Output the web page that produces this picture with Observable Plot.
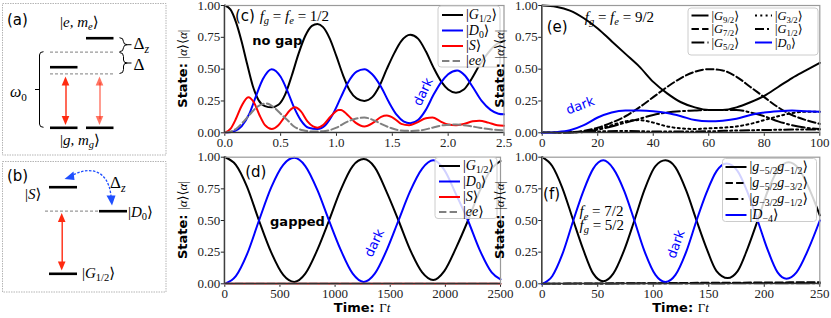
<!DOCTYPE html>
<html><head><meta charset="utf-8">
<script src="https://cdn.jsdelivr.net/npm/d3@7"></script>
<script src="https://cdn.jsdelivr.net/npm/@observablehq/plot@0.6"></script>
<style>
html,body{margin:0;padding:0;background:#fff;}
#root{position:relative;width:831px;height:318px;overflow:hidden;background:#fff;}
#root svg{position:absolute;left:0;top:0;overflow:visible;}
</style></head><body><div id="root"></div>
<script>
// ---------------- DATA ----------------
// panel (c): f_g = f_e = 1/2, no gap, time in units of 1/Γ
const cTicks = [0, 0.5, 1, 1.5, 2, 2.5];
const cG = [[0,1],[0.05,0.97],[0.1,0.87],[0.15,0.72],[0.2,0.54],[0.25,0.37],[0.3,0.26],[0.36,0.21],[0.42,0.2],[0.48,0.22],[0.54,0.3],[0.6,0.45],[0.66,0.62],[0.72,0.76],[0.78,0.84],[0.83,0.855],[0.88,0.83],[0.94,0.74],[1.0,0.6],[1.06,0.45],[1.12,0.33],[1.18,0.27],[1.25,0.25],[1.32,0.28],[1.38,0.36],[1.45,0.5],[1.52,0.63],[1.58,0.72],[1.66,0.77],[1.73,0.74],[1.8,0.64],[1.87,0.51],[1.94,0.4],[2.0,0.34],[2.07,0.315],[2.14,0.34],[2.2,0.41],[2.28,0.53],[2.36,0.63],[2.44,0.7],[2.5,0.72]];
const cD = [[0,0],[0.08,0.01],[0.15,0.05],[0.22,0.15],[0.28,0.29],[0.34,0.42],[0.42,0.5],[0.5,0.44],[0.56,0.33],[0.62,0.2],[0.68,0.1],[0.75,0.04],[0.83,0.03],[0.9,0.06],[0.97,0.15],[1.04,0.28],[1.1,0.39],[1.18,0.48],[1.25,0.5],[1.32,0.46],[1.4,0.36],[1.47,0.24],[1.54,0.14],[1.6,0.09],[1.66,0.075],[1.73,0.1],[1.8,0.18],[1.87,0.3],[1.94,0.4],[2.0,0.46],[2.08,0.49],[2.15,0.45],[2.22,0.36],[2.3,0.25],[2.38,0.18],[2.45,0.15],[2.5,0.145]];
const cS = [[0,0],[0.05,0.03],[0.1,0.11],[0.15,0.21],[0.21,0.28],[0.26,0.24],[0.31,0.14],[0.36,0.06],[0.42,0.03],[0.48,0.06],[0.54,0.13],[0.6,0.19],[0.63,0.2],[0.68,0.17],[0.74,0.09],[0.79,0.05],[0.83,0.04],[0.88,0.06],[0.95,0.13],[1.02,0.18],[1.04,0.18],[1.1,0.14],[1.17,0.08],[1.25,0.05],[1.33,0.08],[1.4,0.125],[1.45,0.135],[1.52,0.11],[1.58,0.07],[1.65,0.06],[1.72,0.08],[1.8,0.115],[1.86,0.12],[1.93,0.09],[2.0,0.065],[2.07,0.06],[2.14,0.07],[2.22,0.09],[2.28,0.095],[2.36,0.08],[2.44,0.06],[2.5,0.055]];
const cEE = [[0,0],[0.1,0.03],[0.17,0.09],[0.24,0.16],[0.3,0.21],[0.37,0.23],[0.44,0.2],[0.5,0.15],[0.56,0.1],[0.62,0.05],[0.7,0.02],[0.8,0.01],[0.9,0.015],[1.0,0.04],[1.08,0.08],[1.17,0.11],[1.25,0.12],[1.33,0.1],[1.4,0.07],[1.48,0.04],[1.56,0.02],[1.66,0.015],[1.76,0.02],[1.86,0.04],[1.96,0.06],[2.07,0.065],[2.18,0.055],[2.28,0.04],[2.4,0.025],[2.5,0.02]];

// panel (d): gapped
const dTicks = [0, 500, 1000, 1500, 2000, 2500];
const dG = [[0,1],[100,0.94],[200,0.77],[310,0.5],[420,0.25],[530,0.07],[630,0.015],[730,0.08],[840,0.27],[945,0.5],[1050,0.74],[1160,0.93],[1260,0.985],[1360,0.92],[1470,0.72],[1575,0.5],[1680,0.27],[1790,0.09],[1890,0.03],[1990,0.1],[2100,0.29],[2205,0.5],[2310,0.73],[2420,0.91],[2500,0.97]];
const dD = [[0,0],[100,0.06],[200,0.23],[310,0.5],[420,0.76],[530,0.94],[630,0.995],[730,0.93],[840,0.74],[945,0.5],[1050,0.27],[1160,0.08],[1260,0.015],[1360,0.08],[1470,0.27],[1575,0.5],[1680,0.73],[1790,0.91],[1890,0.975],[1990,0.9],[2100,0.7],[2205,0.5],[2310,0.27],[2420,0.09],[2500,0.035]];
const dS = [[0,0],[1250,0.001],[2500,0.001]];
const dEE = [[0,0],[1250,0],[2500,0]];

// panel (e): f_g = f_e = 9/2
const eTicks = [0, 20, 40, 60, 80, 100];
const eG92 = [[0,1],[5,0.99],[10,0.96],[15,0.9],[20,0.82],[25,0.72],[30,0.62],[35,0.52],[40,0.4],[45,0.31],[50,0.24],[55,0.2],[60,0.18],[65,0.18],[70,0.2],[75,0.24],[80,0.29],[85,0.36],[90,0.43],[95,0.49],[100,0.55]];
const eG72 = [[0,0],[10,0.005],[15,0.015],[20,0.04],[25,0.08],[30,0.13],[35,0.2],[40,0.28],[45,0.36],[50,0.43],[55,0.48],[60,0.5],[65,0.49],[70,0.44],[75,0.36],[80,0.28],[85,0.2],[90,0.14],[95,0.1],[100,0.07]];
const eG52 = [[0,0],[10,0.003],[15,0.01],[20,0.025],[25,0.05],[30,0.08],[35,0.11],[40,0.14],[45,0.16],[50,0.17],[55,0.175],[60,0.18],[65,0.18],[70,0.18],[75,0.16],[80,0.13],[85,0.09],[90,0.06],[95,0.04],[100,0.03]];
const eG32 = [[0,0],[10,0.003],[15,0.01],[20,0.03],[25,0.06],[30,0.09],[35,0.1],[40,0.08],[45,0.05],[50,0.035],[55,0.03],[60,0.035],[65,0.04],[70,0.05],[75,0.07],[80,0.1],[85,0.13],[90,0.155],[95,0.165],[100,0.165]];
const eG12 = [[0,0],[10,0.002],[20,0.01],[30,0.015],[40,0.01],[50,0.01],[60,0.012],[70,0.018],[80,0.022],[90,0.025],[100,0.025]];
const eD0 = [[0,0],[5,0.005],[10,0.02],[15,0.06],[20,0.12],[25,0.16],[30,0.175],[35,0.175],[40,0.17],[45,0.155],[50,0.13],[55,0.1],[60,0.09],[65,0.095],[70,0.11],[75,0.14],[80,0.16],[85,0.17],[90,0.175],[95,0.17],[100,0.165]];

// panel (f): f_e = 7/2, f_g = 5/2
const fTicks = [0, 50, 100, 150, 200, 250];
const fA = [[0,1],[9,0.93],[18,0.76],[28,0.5],[37,0.27],[46,0.08],[55,0.02],[64,0.08],[74,0.27],[83,0.5],[92,0.74],[102,0.93],[111,0.975],[120,0.92],[130,0.73],[139,0.5],[148,0.28],[157,0.1],[167,0.045],[176,0.1],[185,0.28],[194,0.5],[203,0.73],[213,0.91],[222,0.96],[231,0.91],[241,0.74],[250,0.54]];
const fB = [[0,0],[50,0.003],[100,0.005],[150,0.008],[200,0.01],[250,0.013]];
const fC = [[0,0],[100,0.002],[250,0.005]];
const fD = [[0,0],[9,0.06],[18,0.23],[28,0.5],[37,0.73],[46,0.91],[55,0.975],[64,0.91],[74,0.73],[83,0.5],[92,0.26],[102,0.07],[111,0.015],[120,0.07],[130,0.26],[139,0.5],[148,0.72],[157,0.89],[166,0.95],[176,0.89],[185,0.72],[194,0.5],[203,0.27],[212,0.09],[220,0.04],[229,0.09],[240,0.28],[250,0.5]];

const yTicks = [0, 0.25, 0.5, 0.75, 1];

// text labels (parts: [string, style]; styles: r roman serif, i italic serif, s sans, sb sans bold, _x subscript)
const ketG12 = [["|","r"],["G","i"],["1/2","_r"],["⟩","r"]];
const ketD0 = [["|","r"],["D","i"],["0","_r"],["⟩","r"]];
const ketS = [["|","r"],["S","i"],["⟩","r"]];
const ketEE = [["|","r"],["ee","i"],["⟩","r"]];
const ketG = h => [["|","r"],["G","i"],[h,"_r"],["⟩","r"]];
const ketGG = (a,b) => [["|","r"],["g","i"],[a,"_r"],["g","i"],[b,"_r"],["⟩","r"]];
const ketDm4 = [["|","r"],["D","i"],["−4","_r"],["⟩","r"]];
const yLabel = [["State: ","sb"],["|","r"],["α","i"],["⟩⟨","r"],["α","i"],["|","r"]];
const xLabel = [["Time: ","sb"],["Γ","r"],["t","i"]];

// ---------------- RENDERING ----------------
const W = 831, H = 318;
const root = document.getElementById("root");
const SERIF = "'Liberation Serif', 'DejaVu Serif', serif";
const SANS = "'DejaVu Sans', sans-serif";
const DASH = {solid:null, dashed:"7.4,3.2", dashdot:"12.8,3.2,2,3.2", dotted:"2,3.3", dashdotdot:"9,3,2,3,2,3"};

function rich(g, x, y, parts, size, opts = {}) {
  const t = g.append("text").attr("x", x).attr("y", y).attr("font-size", size)
    .attr("fill", opts.fill || "#000").attr("text-anchor", opts.anchor || "start");
  if (opts.rotate != null) t.attr("transform", `rotate(${opts.rotate},${x},${y})`);
  let off = 0;
  for (const [s, f] of parts) {
    const sub = f.startsWith("_");
    const kind = sub ? f.slice(1) : f;
    const fs = sub ? size * 0.7 : size;
    const target = sub ? size * 0.22 : 0;
    const ts = t.append("tspan").text(s).attr("font-size", fs);
    if (target !== off) { ts.attr("dy", target - off); off = target; }
    if (kind === "i") ts.attr("font-family", SERIF).attr("font-style", "italic");
    else if (kind === "r") ts.attr("font-family", SERIF);
    else if (kind === "sb") ts.attr("font-family", SANS).attr("font-weight", "bold");
    else ts.attr("font-family", SANS);
  }
  return t;
}

function panel(cfg) {
  const {left, right, top, bottom, xDomain, xTicks, xFmt, series} = cfg;
  const chart = Plot.plot({
    width: W, height: H,
    marginLeft: left, marginRight: W - right, marginTop: top, marginBottom: H - bottom,
    x: {domain: xDomain, ticks: xTicks, tickFormat: xFmt, tickSize: 3.5, tickPadding: 1.5, label: null},
    y: {domain: [0, 1], ticks: yTicks, tickFormat: d3.format(".2f"), tickSize: 3.5, tickPadding: 1, label: null},
    style: {background: "transparent", fontFamily: SERIF, fontSize: "13px", color: "#222", overflow: "visible"},
    marks: [
      ...series.map(s => Plot.line(s.data, {x: d => d[0], y: d => d[1], stroke: s.color,
        strokeWidth: s.w || 2, strokeDasharray: DASH[s.dash || "solid"], curve: "monotone-x"})),
      Plot.frame({stroke: "#9a9a9a", strokeWidth: 1.2})
    ]
  });
  root.appendChild(chart);
  const sx = chart.scale("x"), sy = chart.scale("y");
  const fx = sx.apply ? v => sx.apply(v) : d3.scaleLinear(sx.domain, sx.range);
  const fy = sy.apply ? v => sy.apply(v) : d3.scaleLinear(sy.domain, sy.range);
  const g = d3.select(chart).append("g");
  g.append("line").attr("x1", left).attr("x2", left).attr("y1", top).attr("y2", bottom).attr("stroke", "#333").attr("stroke-width", 1.2);
  g.append("line").attr("x1", left).attr("x2", right).attr("y1", bottom).attr("y2", bottom).attr("stroke", "#333").attr("stroke-width", 1.2);
  for (const a of cfg.texts) {
    rich(g, fx(a.x), fy(a.y), a.parts, a.size, {fill: a.fill, rotate: a.rotate, anchor: a.anchor});
  }
  const L = cfg.legend;
  g.append("rect").attr("x", L.x).attr("y", L.y).attr("width", L.w).attr("height", L.h)
    .attr("rx", 3).attr("fill", "white").attr("fill-opacity", 0.82).attr("stroke", "#cccccc");
  for (const r of L.rows) {
    g.append("line").attr("x1", r.lx).attr("x2", r.lx + L.len).attr("y1", r.y).attr("y2", r.y)
      .attr("stroke", r.color).attr("stroke-width", 2).attr("stroke-dasharray", DASH[r.dash || "solid"]);
    rich(g, r.lx + L.len + 3, r.y + 4.4, r.parts, L.size);
  }
  rich(g, left - 37.5, (top + bottom) / 2, yLabel, 13, {anchor: "middle", rotate: -90});
  if (cfg.xlab) rich(g, (left + right) / 2, 311.5, xLabel, 13, {anchor: "middle"});
  return chart;
}

// (c)
panel({left: 224.3, right: 503.5, top: 5, bottom: 132.3, xDomain: [0, 2.5], xTicks: cTicks, xFmt: d3.format(".1f"),
  series: [{data: cG, color: "#000"}, {data: cD, color: "#0000ff"}, {data: cS, color: "#ff0000"}, {data: cEE, color: "#808080", dash: "dashed"}],
  texts: [
    {x: 0.095, y: 0.874, size: 15, parts: [["(c) ","s"],["f","i"],["g","_i"],[" = ","r"],["f","i"],["e","_i"],[" = 1/2","r"]]},
    {x: 0.25, y: 0.686, size: 13, parts: [["no gap","sb"]]},
    {x: 1.76, y: 0.2, size: 13, fill: "#0000ff", rotate: -65, parts: [["dark","s"]]}
  ],
  legend: {x: 438, y: 6, w: 62, h: 61, len: 21, size: 14, rows: [
    {lx: 442, y: 15, color: "#000", parts: ketG12},
    {lx: 442, y: 30.5, color: "#0000ff", parts: ketD0},
    {lx: 442, y: 46, color: "#ff0000", parts: ketS},
    {lx: 442, y: 61, color: "#808080", dash: "dashed", parts: ketEE}]}
});

// (d)
panel({left: 224.3, right: 500, top: 156.7, bottom: 283.3, xDomain: [0, 2500], xTicks: dTicks, xFmt: d3.format("d"), xlab: true,
  series: [{data: dG, color: "#000"}, {data: dD, color: "#0000ff"}, {data: dS, color: "#ff0000"}, {data: dEE, color: "#808080", dash: "dashed"}],
  texts: [
    {x: 190, y: 0.84, size: 15, parts: [["(d)","s"]]},
    {x: 415, y: 0.45, size: 13, parts: [["gapped","sb"]]},
    {x: 1340, y: 0.2, size: 13, fill: "#0000ff", rotate: -65, parts: [["dark","s"]]}
  ],
  legend: {x: 435, y: 157.5, w: 62, h: 61, len: 21, size: 14, rows: [
    {lx: 439, y: 166, color: "#000", parts: ketG12},
    {lx: 439, y: 181.5, color: "#0000ff", parts: ketD0},
    {lx: 439, y: 197, color: "#ff0000", parts: ketS},
    {lx: 439, y: 212, color: "#808080", dash: "dashed", parts: ketEE}]}
});

// (e)
panel({left: 541.7, right: 819.3, top: 5, bottom: 132.3, xDomain: [0, 100], xTicks: eTicks, xFmt: d3.format("d"),
  series: [{data: eG92, color: "#000"}, {data: eG72, color: "#000", dash: "dashed"}, {data: eG52, color: "#000", dash: "dashdot"},
           {data: eG32, color: "#000", dash: "dotted"}, {data: eG12, color: "#000", dash: "dashdotdot"}, {data: eD0, color: "#0000ff"}],
  texts: [
    {x: 1.8, y: 0.79, size: 15, parts: [["(e)","s"]]},
    {x: 15.5, y: 0.867, size: 15, parts: [["f","i"],["g","_i"],[" = ","r"],["f","i"],["e","_i"],[" = 9/2","r"]]},
    {x: 9.5, y: 0.14, size: 13, fill: "#0000ff", rotate: -20, parts: [["dark","s"]]}
  ],
  legend: {x: 688, y: 8, w: 130, h: 47, len: 17, size: 12.5, rows: [
    {lx: 691.5, y: 15.5, color: "#000", parts: ketG("9/2")},
    {lx: 691.5, y: 29, color: "#000", dash: "dashed", parts: ketG("7/2")},
    {lx: 691.5, y: 42.5, color: "#000", dash: "dashdot", parts: ketG("5/2")},
    {lx: 755, y: 15.5, color: "#000", dash: "dotted", parts: ketG("3/2")},
    {lx: 755, y: 29, color: "#000", dash: "dashdotdot", parts: ketG("1/2")},
    {lx: 755, y: 42.5, color: "#0000ff", parts: ketD0}]}
});

// (f)
panel({left: 541.7, right: 819.3, top: 156.7, bottom: 283.3, xDomain: [0, 250], xTicks: fTicks, xFmt: d3.format("d"), xlab: true,
  series: [{data: fA, color: "#000"}, {data: fB, color: "#000", dash: "dashed"}, {data: fC, color: "#000", dash: "dashdot"}, {data: fD, color: "#0000ff"}],
  texts: [
    {x: 1.2, y: 0.666, size: 15, parts: [["(f)","s"]]},
    {x: 34, y: 0.53, size: 15, parts: [["f","i"],["e","_i"],[" = 7/2","r"]]},
    {x: 34, y: 0.42, size: 15, parts: [["f","i"],["g","_i"],[" = 5/2","r"]]},
    {x: 120, y: 0.19, size: 13, fill: "#0000ff", rotate: -70, parts: [["dark","s"]]}
  ],
  legend: {x: 722.5, y: 158.5, w: 94, h: 63, len: 21, size: 14, rows: [
    {lx: 725.5, y: 167, color: "#000", parts: ketGG("−5/2", "−1/2")},
    {lx: 725.5, y: 183, color: "#000", dash: "dashed", parts: ketGG("−5/2", "−3/2")},
    {lx: 725.5, y: 199, color: "#000", dash: "dashdot", parts: ketGG("−3/2", "−1/2")},
    {lx: 725.5, y: 215, color: "#0000ff", parts: ketDm4}]}
});

// ---------------- schematic panels (a), (b) ----------------
const boxes = [{x1: 2.5, x2: 166, y1: 3.5, y2: 155}, {x1: 2.5, x2: 166, y1: 161.5, y2: 292}];
const levelsSolid = [
  {x1: 86, x2: 113.5, y: 37.7}, {x1: 50, x2: 77.5, y: 66.7}, {x1: 50, x2: 77.5, y: 127.3}, {x1: 86, x2: 113.5, y: 127.3},
  {x1: 49, x2: 77, y: 186.7}, {x1: 99, x2: 127, y: 210.7}, {x1: 49, x2: 77, y: 273.3}];
const levelsDashed = [{x1: 50, x2: 115, y: 51.7}, {x1: 50, x2: 115, y: 73.3}, {x1: 45, x2: 99, y: 210.7}];
const redArrows = [{x: 65.5, y1: 76.5, y2: 125, op: 1}, {x: 99.5, y1: 76.5, y2: 125, op: 0.65}, {x: 61.7, y1: 213, y2: 270.5, op: 1}];

const schem = Plot.plot({
  width: W, height: H, margin: 0,
  x: {type: "identity", axis: null}, y: {type: "identity", axis: null},
  style: {background: "transparent", overflow: "visible"},
  marks: [
    Plot.rect(boxes, {x1: "x1", x2: "x2", y1: "y1", y2: "y2", fill: "none", stroke: "#b5b5b5", strokeWidth: 1, strokeDasharray: "1.5,1"}),
    Plot.ruleY(levelsDashed, {y: "y", x1: "x1", x2: "x2", stroke: "#999", strokeWidth: 1.2, strokeDasharray: "3,2"}),
    Plot.ruleY(levelsSolid, {y: "y", x1: "x1", x2: "x2", stroke: "#000", strokeWidth: 2.6}),
    Plot.ruleX(redArrows, {x: "x", y1: d => d.y1 + 6, y2: d => d.y2 - 6, stroke: "#ff2a10", strokeOpacity: "op", strokeWidth: 1.4})
  ]
});
root.appendChild(schem);
const sg = d3.select(schem).append("g");
for (const a of redArrows) {
  sg.append("path").attr("d", `M${a.x},${a.y1} L${a.x - 3.8},${a.y1 + 9} L${a.x + 3.8},${a.y1 + 9} Z`).attr("fill", "#ff2a10").attr("fill-opacity", a.op);
  sg.append("path").attr("d", `M${a.x},${a.y2} L${a.x - 3.8},${a.y2 - 9} L${a.x + 3.8},${a.y2 - 9} Z`).attr("fill", "#ff2a10").attr("fill-opacity", a.op);
}
function rbrace(x, y0, y1) {
  const m = (y0 + y1) / 2;
  return `M${x},${y0} Q${x + 4},${y0} ${x + 4},${y0 + 4} L${x + 4},${m - 3} Q${x + 4},${m} ${x + 8},${m} Q${x + 4},${m} ${x + 4},${m + 3} L${x + 4},${y1 - 4} Q${x + 4},${y1} ${x},${y1} M${x + 8},${m} L${x + 12},${m}`;
}
sg.append("path").attr("d", rbrace(119.5, 37.7, 51.7)).attr("fill", "none").attr("stroke", "#000").attr("stroke-width", 1);
sg.append("path").attr("d", rbrace(119.5, 52.5, 73.5)).attr("fill", "none").attr("stroke", "#000").attr("stroke-width", 1);
sg.append("path").attr("d", `M43.5,51.7 Q39.5,51.7 39.5,55 L39.5,124 Q39.5,127.3 43.5,127.3 M39.5,89.5 L35,89.5`).attr("fill", "none").attr("stroke", "#000").attr("stroke-width", 1);
sg.append("path").attr("d", "M70,176.5 C88,166 108,168 111,196").attr("fill", "none").attr("stroke", "#1f4fff").attr("stroke-width", 1.3).attr("stroke-dasharray", "2.5,1.5");
sg.append("path").attr("d", "M64.5,179 L73.5,171.5 L74.5,180 Z").attr("fill", "#1f4fff");
sg.append("path").attr("d", "M112,205.5 L106.5,195.5 L115.5,195.5 Z").attr("fill", "#1f4fff");
rich(sg, 7, 25, [["(a)","s"]], 15);
rich(sg, 60, 27, [["|","r"],["e, m","i"],["e","_i"],["⟩","r"]], 15);
rich(sg, 60, 145, [["|","r"],["g, m","i"],["g","_i"],["⟩","r"]], 15);
rich(sg, 10, 97, [["ω","i"],["0","_r"]], 16);
rich(sg, 133.5, 49, [["Δ","r"],["z","_i"]], 17);
rich(sg, 133.5, 69.5, [["Δ","r"]], 17);
rich(sg, 7, 181, [["(b)","s"]], 15);
rich(sg, 25, 199, ketS, 15);
rich(sg, 128, 217, ketD0, 15);
rich(sg, 82, 278, ketG12, 15);
rich(sg, 110, 188, [["Δ","r"],["z","_i"]], 17);
</script></body></html>
